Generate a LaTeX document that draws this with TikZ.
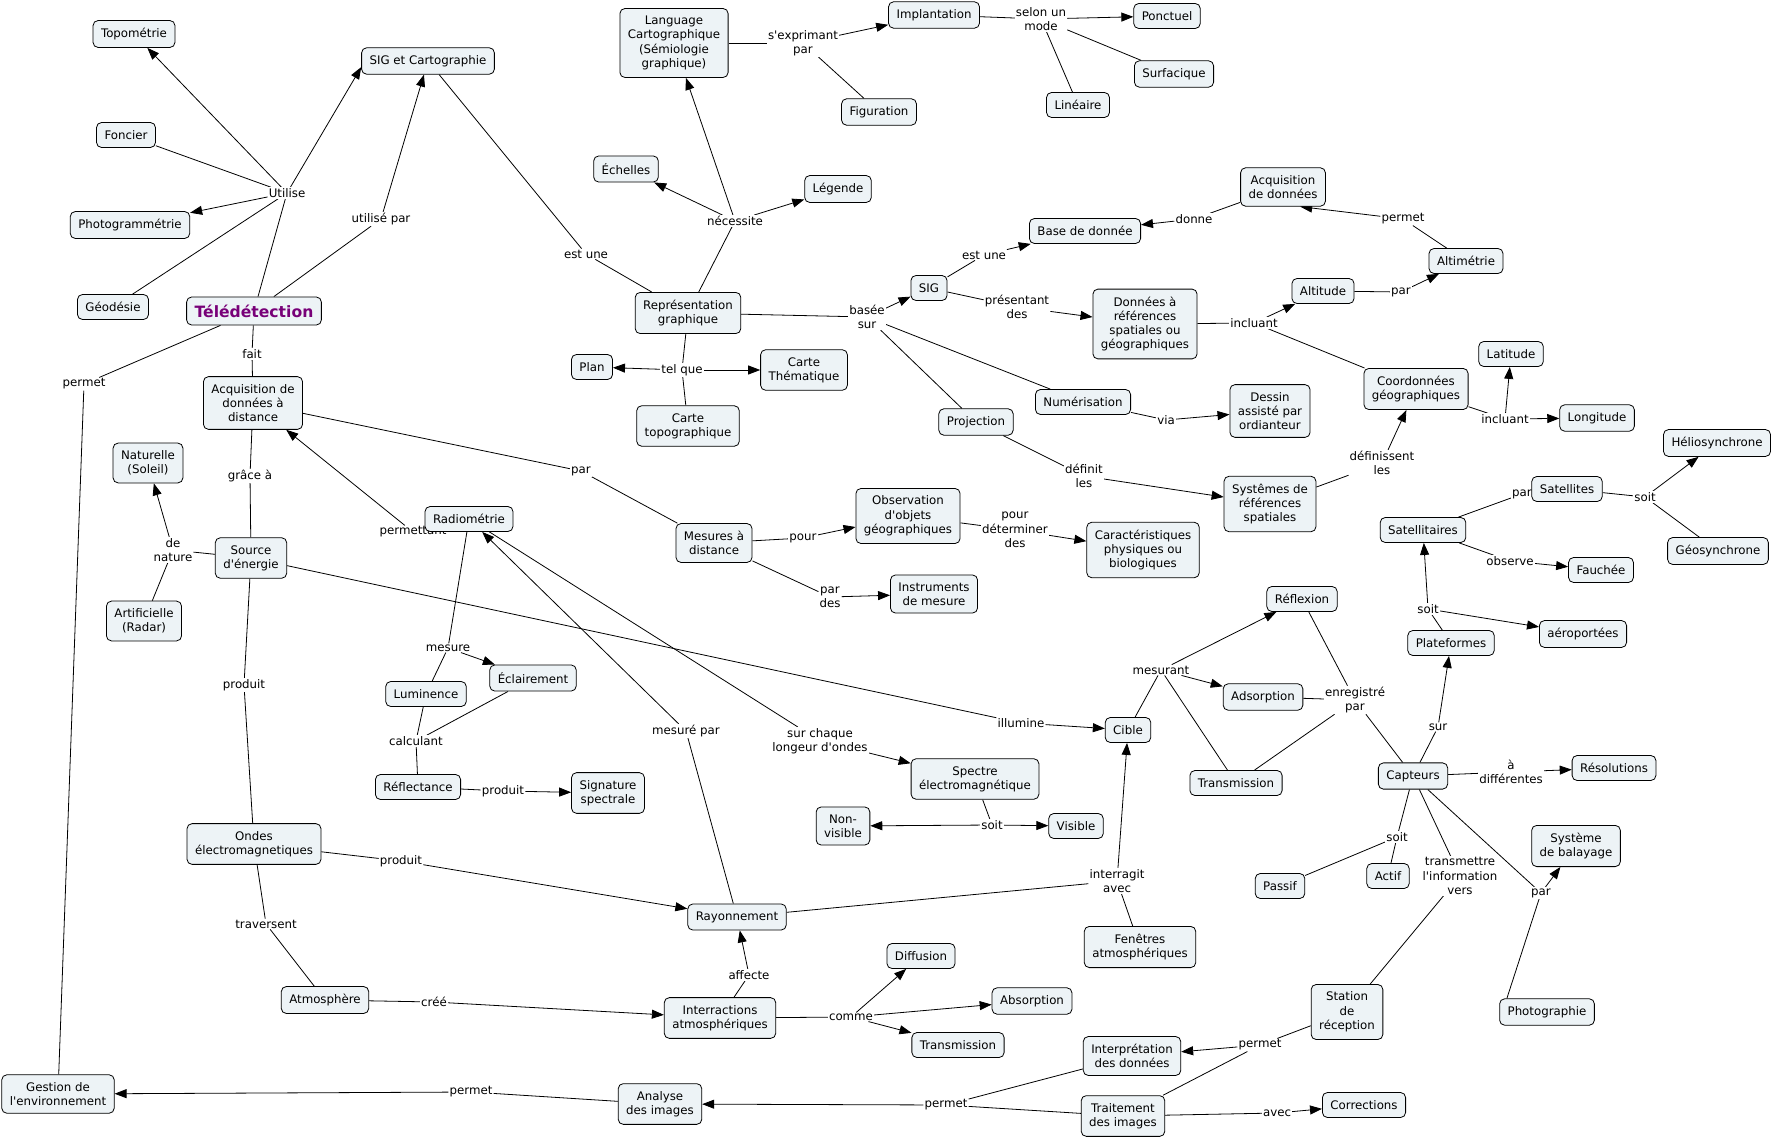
\documentclass[tikz,border=0pt]{standalone}
\usepackage{fontspec}
\setmainfont{DejaVu Sans}
\usetikzlibrary{arrows.meta,calc}
\definecolor{cfill}{RGB}{237,243,246}
\definecolor{tpurple}{RGB}{120,0,120}
\newcommand{\cmfont}{\fontsize{11.8}{14.3}\selectfont}
\newcommand{\sq}{\textquotesingle}
\pgfdeclarelayer{background}
\pgfdeclarelayer{edges}
\pgfsetlayers{background,edges,main}
\tikzset{
  concept/.style={draw, rounded corners=5pt, fill=cfill, line width=0.8pt, align=center,
    inner xsep=8pt, inner ysep=7.5pt, minimum height=25pt, font=\cmfont},
  lbl/.style={fill=white, align=center, inner sep=1pt, font=\cmfont},
  lnk/.style={line width=0.8pt},
  arr/.style={line width=0.8pt, -{Triangle[length=12pt,width=9pt]}},
}
\begin{document}
\begin{tikzpicture}[x=1pt,y=-1pt]
\begin{pgfonlayer}{background}
\fill[white] (0,0) rectangle (1774,1139);
\end{pgfonlayer}
\useasboundingbox (0,0) rectangle (1774,1139);

% ---------- labels ----------
\node[lbl] (l_util) at (287,193) {Utilise};
\node[lbl] (l_utpar) at (381,219) {utilisé par};
\node[lbl] (l_fait) at (252,354) {fait};
\node[lbl] (l_perm1) at (84,384) {permet};
\node[lbl] (l_estune1) at (586,254) {est une};
\node[lbl] (l_nec) at (735,221) {nécessite};
\node[lbl] (l_expr) at (803,43) {s\sq exprimant\\par};
\node[lbl] (l_selon) at (1041,19) {selon un\\mode};
\node[lbl] (l_basee) at (867,317) {basée\\sur};
\node[lbl] (l_telque) at (682,370) {tel que};
\node[lbl] (l_estune2) at (984,255) {est une};
\node[lbl] (l_pres) at (1017,307) {présentant\\des};
\node[lbl] (l_donne) at (1194,219) {donne};
\node[lbl] (l_perm2) at (1403,219) {permet};
\node[lbl] (l_incl1) at (1254,323) {incluant};
\node[lbl] (l_par1) at (1401,292) {par};
\node[lbl] (l_incl2) at (1505,419) {incluant};
\node[lbl] (l_via) at (1166,420) {via};
\node[lbl] (l_defin) at (1084,476) {définit\\les};
\node[lbl] (l_definiss) at (1382,463) {définissent\\les};
\node[lbl] (l_par2) at (581,471) {par};
\node[lbl] (l_pour) at (803,538) {pour};
\node[lbl] (l_pourdet) at (1015,530) {pour\\déterminer\\des};
\node[lbl] (l_pardes) at (830,597) {par\\des};
\node[lbl] (l_grace) at (250,476) {grâce à};
\node[lbl] (l_permtt) at (413,532) {permettant};
\node[lbl] (l_denat) at (173,550) {de\\nature};
\node[lbl] (l_illum) at (1021,723) {illumine};
\node[lbl] (l_prod1) at (244,685) {produit};
\node[lbl] (l_mesure) at (448,648) {mesure};
\node[lbl] (l_calc) at (416,741) {calculant};
\node[lbl] (l_prod3) at (503,791) {produit};
\node[lbl] (l_surch) at (820,741) {sur chaque\\longeur d\sq ondes};
\node[lbl] (l_mespar) at (686,731) {mesuré par};
\node[lbl] (l_soit3) at (992,825) {soit};
\node[lbl] (l_prod2) at (401,861) {produit};
\node[lbl] (l_trav) at (266,924) {traversent};
\node[lbl] (l_cree) at (434,1002) {créé};
\node[lbl] (l_affect) at (749,975) {affecte};
\node[lbl] (l_comme) at (851,1017) {comme};
\node[lbl] (l_interag) at (1117,881) {interragit\\avec};
\node[lbl] (l_mesurant) at (1161,670) {mesurant};
\node[lbl] (l_enreg) at (1355,700) {enregistré\\par};
\node[lbl] (l_sur) at (1438,727) {sur};
\node[lbl] (l_soit2) at (1428,609) {soit};
\node[lbl] (l_par3) at (1522,494) {par};
\node[lbl] (l_soit1) at (1645,497) {soit};
\node[lbl] (l_observe) at (1510,561) {observe};
\node[lbl] (l_adiff) at (1511,772) {à\\différentes};
\node[lbl] (l_soit4) at (1397,837) {soit};
\node[lbl] (l_transm) at (1460,876) {transmettre\\l\sq information\\vers};
\node[lbl] (l_par4) at (1541,893) {par};
\node[lbl] (l_perm3) at (1260,1045) {permet};
\node[lbl] (l_perm4) at (946,1105) {permet};
\node[lbl] (l_avec) at (1277,1113) {avec};
\node[lbl] (l_perm5) at (471,1092) {permet};

% ---------- concepts ----------
\node[concept] (topo) at (134,34) {Topométrie};
\node[concept] (sigc) at (428,61) {SIG et Cartographie};
\node[concept] (fonc) at (126,135) {Foncier};
\node[concept] (photog) at (130,225) {Photogrammétrie};
\node[concept] (geod) at (113,307) {Géodésie};
\node[concept, font=\fontsize{15.6}{18}\selectfont\bfseries, text=tpurple, minimum height=28pt, inner ysep=6pt] (tele) at (254,311) {Télédétection};
\node[concept] (acqd) at (253,403) {Acquisition de\\données à\\distance};
\node[concept] (lang) at (674,43) {Language\\Cartographique\\(Sémiologie\\graphique)};
\node[concept] (impl) at (934,15) {Implantation};
\node[concept] (figu) at (879,112) {Figuration};
\node[concept] (ech) at (626,169) {Échelles};
\node[concept] (leg) at (838,189) {Légende};
\node[concept] (repr) at (688,313) {Représentation\\graphique};
\node[concept] (plan) at (592,367) {Plan};
\node[concept] (cthem) at (804,370) {Carte\\Thématique};
\node[concept] (ctopo) at (688,426) {Carte\\topographique};
\node[concept] (ponc) at (1167,16) {Ponctuel};
\node[concept] (surf) at (1174,74) {Surfacique};
\node[concept] (lin) at (1078,105) {Linéaire};
\node[concept] (acqr) at (1283,187) {Acquisition\\de données};
\node[concept] (bdd) at (1085,231) {Base de donnée};
\node[concept] (sig) at (929,288) {SIG};
\node[concept] (dref) at (1145,324) {Données à\\références\\spatiales ou\\géographiques};
\node[concept] (alti) at (1323,291) {Altitude};
\node[concept] (altm) at (1466,261) {Altimétrie};
\node[concept] (lat) at (1511,354) {Latitude};
\node[concept] (coord) at (1416,389) {Coordonnées\\géographiques};
\node[concept] (num) at (1083,402) {Numérisation};
\node[concept] (dessin) at (1270,411) {Dessin\\assisté par\\ordianteur};
\node[concept] (proj) at (976,422) {Projection};
\node[concept] (sysref) at (1270,504) {Systêmes de\\références\\spatiales};
\node[concept] (obs) at (908,516) {Observation\\d\sq objets\\géographiques};
\node[concept] (carac) at (1143,550) {Caractéristiques\\physiques ou\\biologiques};
\node[concept] (instr) at (934,594) {Instruments\\de mesure};
\node[concept] (mesd) at (714,543) {Mesures à\\distance};
\node[concept] (natu) at (148,463) {Naturelle\\(Soleil)};
\node[concept] (radio) at (469,519) {Radiométrie};
\node[concept] (src) at (251,558) {Source\\d\sq énergie};
\node[concept] (arti) at (144,621) {Artificielle\\(Radar)};
\node[concept] (lumi) at (426,694) {Luminence};
\node[concept] (ecl) at (533,678) {Éclairement};
\node[concept] (refl) at (418,787) {Réflectance};
\node[concept] (sign) at (608,793) {Signature\\spectrale};
\node[concept] (spec) at (975,779) {Spectre\\électromagnétique};
\node[concept] (visi) at (1076,826) {Visible};
\node[concept] (nvis) at (843,826) {Non-\\visible};
\node[concept] (ondes) at (254,844) {Ondes\\électromagnetiques};
\node[concept] (rayo) at (737,917) {Rayonnement};
\node[concept] (atmo) at (325,1000) {Atmosphère};
\node[concept] (inter) at (720,1018) {Interractions\\atmosphériques};
\node[concept] (diff) at (921,956) {Diffusion};
\node[concept] (absp) at (1032,1001) {Absorption};
\node[concept] (transb) at (958,1045) {Transmission};
\node[concept] (fen) at (1140,947) {Fenêtres\\atmosphériques};
\node[concept] (cible) at (1128,730) {Cible};
\node[concept] (reflx) at (1302,599) {Réflexion};
\node[concept] (adso) at (1263,697) {Adsorption};
\node[concept] (transt) at (1236,783) {Transmission};
\node[concept] (long) at (1597,418) {Longitude};
\node[concept] (helio) at (1717,443) {Héliosynchrone};
\node[concept] (satl) at (1567,489) {Satellites};
\node[concept] (sata) at (1423,530) {Satellitaires};
\node[concept] (geos) at (1718,551) {Géosynchrone};
\node[concept] (fauc) at (1601,570) {Fauchée};
\node[concept] (plat) at (1451,643) {Plateformes};
\node[concept] (aero) at (1583,634) {aéroportées};
\node[concept] (capt) at (1413,776) {Capteurs};
\node[concept] (reso) at (1614,768) {Résolutions};
\node[concept] (passif) at (1280,886) {Passif};
\node[concept] (actif) at (1388,876) {Actif};
\node[concept] (balay) at (1576,846) {Système\\de balayage};
\node[concept] (photo) at (1547,1012) {Photographie};
\node[concept] (station) at (1347,1012) {Station\\de\\réception};
\node[concept] (interp) at (1132,1056) {Interprétation\\des données};
\node[concept] (trait) at (1123,1116) {Traitement\\des images};
\node[concept] (corr) at (1364,1105) {Corrections};
\node[concept] (analy) at (660,1104) {Analyse\\des images};
\node[concept] (gest) at (58,1094) {Gestion de\\l\sq environnement};

% ---------- connectors ----------
\begin{pgfonlayer}{edges}
\draw[lnk] (tele) -- (l_util);
\draw[arr] (l_util) -- (topo);
\draw[lnk] (l_util) -- (fonc);
\draw[arr] (l_util) -- (photog);
\draw[lnk] (l_util) -- (geod);
\draw[arr] (l_util) -- ($(sigc.south west)!0.55!(sigc.west)$);
\draw[lnk] (tele) -- (l_utpar);
\draw[arr] (l_utpar) -- (sigc);
\draw[lnk] (tele) -- (l_fait) -- (acqd);
\draw[lnk] (tele) -- (l_perm1) -- (gest);
\draw[lnk] (sigc) -- (l_estune1) -- (repr);
\draw[lnk] (repr) -- (l_nec);
\draw[arr] (l_nec) -- (ech);
\draw[arr] (l_nec) -- (leg);
\draw[arr] (l_nec) -- (lang);
\draw[lnk] (lang) -- (l_expr);
\draw[arr] (l_expr) -- (impl);
\draw[lnk] (l_expr) -- (figu);
\draw[lnk] (impl) -- (l_selon);
\draw[arr] (l_selon) -- (ponc);
\draw[lnk] (l_selon) -- (surf);
\draw[lnk] (l_selon) -- (lin);
\draw[lnk] (repr) -- (l_basee);
\draw[arr] (l_basee) -- (sig);
\draw[lnk] (l_basee) -- (num);
\draw[lnk] (l_basee) -- (proj);
\draw[lnk] (sig) -- (l_estune2);
\draw[arr] (l_estune2) -- (bdd);
\draw[lnk] (sig) -- (l_pres);
\draw[arr] (l_pres) -- (dref);
\draw[lnk] (acqr) -- (l_donne);
\draw[arr] (l_donne) -- (bdd);
\draw[lnk] (altm) -- (l_perm2);
\draw[arr] (l_perm2) -- ($(acqr.south)!0.4!(acqr.south east)$);
\draw[lnk] (dref) -- (l_incl1);
\draw[arr] (l_incl1) -- (alti);
\draw[lnk] (l_incl1) -- (coord);
\draw[lnk] (alti) -- (l_par1);
\draw[arr] (l_par1) -- (altm);
\draw[lnk] (coord) -- (l_incl2);
\draw[arr] (l_incl2) -- (lat);
\draw[arr] (l_incl2) -- (long);
\draw[lnk] (num) -- (l_via);
\draw[arr] (l_via) -- (dessin);
\draw[lnk] (proj) -- (l_defin);
\draw[arr] (l_defin) -- (sysref);
\draw[lnk] (sysref) -- (l_definiss);
\draw[arr] (l_definiss) -- (coord);
\draw[lnk] (repr) -- (l_telque);
\draw[arr] (l_telque) -- (plan);
\draw[arr] (l_telque) -- (cthem);
\draw[lnk] (l_telque) -- (ctopo);
\draw[lnk] (acqd) -- (l_par2) -- (mesd);
\draw[lnk] (mesd) -- (l_pour);
\draw[arr] (l_pour) -- (obs);
\draw[lnk] (obs) -- (l_pourdet);
\draw[arr] (l_pourdet) -- (carac);
\draw[lnk] (mesd) -- (l_pardes);
\draw[arr] (l_pardes) -- (instr);
\draw[lnk] (acqd) -- (l_grace) -- (src);
\draw[lnk] (radio) -- (l_permtt);
\draw[arr] (l_permtt) -- (acqd);
\draw[lnk] (src) -- (l_denat);
\draw[arr] (l_denat) -- (natu);
\draw[lnk] (l_denat) -- (arti);
\draw[lnk] (src) -- (l_illum);
\draw[arr] (l_illum) -- (cible);
\draw[lnk] (src) -- (l_prod1) -- (ondes);
\draw[lnk] (radio) -- (l_mesure);
\draw[arr] (l_mesure) -- (ecl);
\draw[lnk] (l_mesure) -- (lumi);
\draw[lnk] (lumi) -- (l_calc);
\draw[lnk] (ecl) -- (l_calc);
\draw[lnk] (l_calc) -- (refl);
\draw[lnk] (refl) -- (l_prod3);
\draw[arr] (l_prod3) -- (sign);
\draw[lnk] (radio) -- (l_surch);
\draw[arr] (l_surch) -- (spec);
\draw[lnk] (rayo) -- (l_mespar);
\draw[arr] (l_mespar) -- (radio);
\draw[lnk] (spec) -- (l_soit3);
\draw[arr] (l_soit3) -- (visi);
\draw[arr] (l_soit3) -- (nvis);
\draw[lnk] (ondes) -- (l_prod2);
\draw[arr] (l_prod2) -- (rayo);
\draw[lnk] (ondes) -- (l_trav) -- (atmo);
\draw[lnk] (atmo) -- (l_cree);
\draw[arr] (l_cree) -- (inter);
\draw[lnk] (inter) -- (l_affect);
\draw[arr] (l_affect) -- (rayo);
\draw[lnk] (inter) -- (l_comme);
\draw[arr] (l_comme) -- (diff);
\draw[arr] (l_comme) -- (absp);
\draw[arr] (l_comme) -- (transb);
\draw[lnk] (rayo) -- (l_interag);
\draw[arr] (l_interag) -- (cible);
\draw[lnk] (l_interag) -- (fen);
\draw[lnk] (cible) -- (l_mesurant);
\draw[arr] (l_mesurant) -- (reflx);
\draw[arr] (l_mesurant) -- (adso);
\draw[lnk] (l_mesurant) -- (transt);
\draw[lnk] (reflx) -- (l_enreg);
\draw[lnk] (adso) -- (l_enreg);
\draw[lnk] (transt) -- (l_enreg);
\draw[lnk] (l_enreg) -- (capt);
\draw[lnk] (capt) -- (l_sur);
\draw[arr] (l_sur) -- (plat);
\draw[lnk] (plat) -- (l_soit2);
\draw[arr] (l_soit2) -- (sata);
\draw[arr] (l_soit2) -- (aero);
\draw[lnk] (sata) -- (l_par3) -- (satl);
\draw[lnk] (satl) -- (l_soit1);
\draw[arr] (l_soit1) -- (helio);
\draw[lnk] (l_soit1) -- (geos);
\draw[lnk] (sata) -- (l_observe);
\draw[arr] (l_observe) -- (fauc);
\draw[lnk] (capt) -- (l_adiff);
\draw[arr] (l_adiff) -- (reso);
\draw[lnk] (capt) -- (l_soit4);
\draw[lnk] (l_soit4) -- (passif);
\draw[lnk] (l_soit4) -- (actif);
\draw[lnk] (capt) -- (l_transm) -- (station);
\draw[lnk] (capt) -- (l_par4);
\draw[arr] (l_par4) -- (balay);
\draw[lnk] (l_par4) -- ($(photo.north west)!0.08!(photo.north east)$);
\draw[lnk] (station) -- (l_perm3);
\draw[arr] (l_perm3) -- (interp);
\draw[lnk] (l_perm3) -- (trait);
\draw[lnk] (trait) -- (l_avec);
\draw[arr] (l_avec) -- (corr);
\draw[lnk] (interp) -- (l_perm4);
\draw[lnk] (trait) -- (l_perm4);
\draw[arr] (l_perm4) -- (analy);
\draw[lnk] (analy) -- (l_perm5);
\draw[arr] (l_perm5) -- (gest);
\end{pgfonlayer}
\end{tikzpicture}
\end{document}
